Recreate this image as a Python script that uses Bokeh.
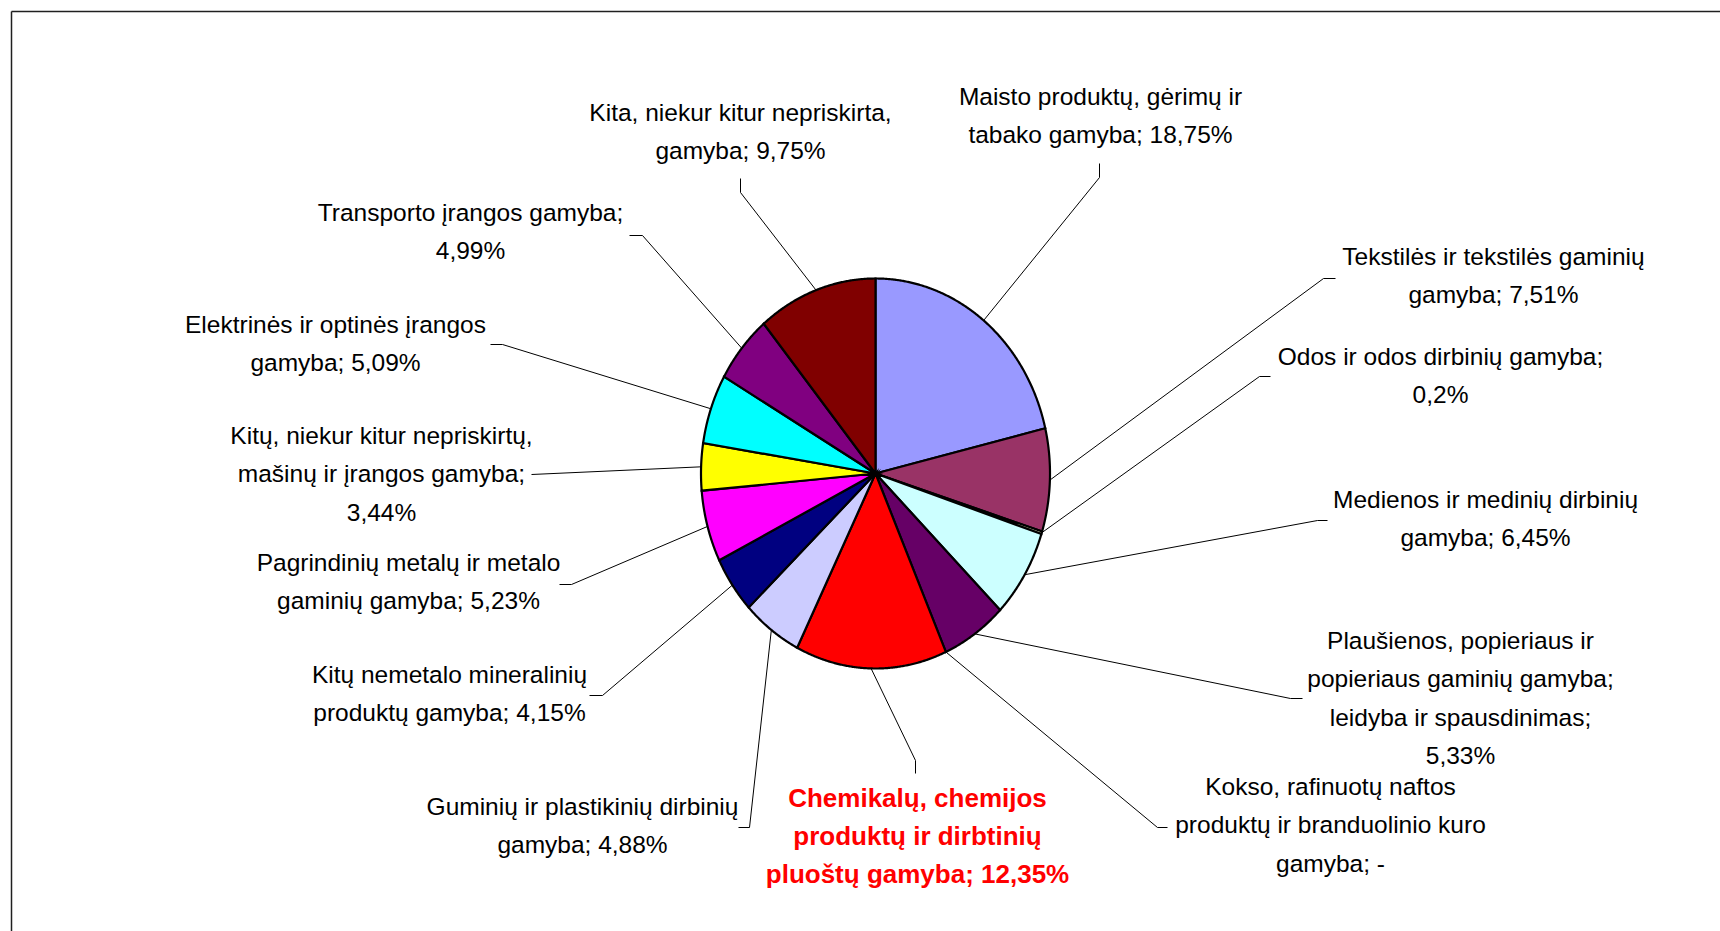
import numpy as np
from bokeh.plotting import figure
from bokeh.models import Range1d, ColumnDataSource
from bokeh.embed import file_html
from bokeh.resources import INLINE
from bokeh.core.properties import value

# ---------------- data ----------------
categories = [
    "Maisto produktų, gėrimų ir tabako gamyba",
    "Tekstilės ir tekstilės gaminių gamyba",
    "Odos ir odos dirbinių gamyba",
    "Medienos ir medinių dirbinių gamyba",
    "Plaušienos, popieriaus ir popieriaus gaminių gamyba; leidyba ir spausdinimas",
    "Kokso, rafinuotų naftos produktų ir branduolinio kuro gamyba",
    "Chemikalų, chemijos produktų ir dirbtinių pluoštų gamyba",
    "Guminių ir plastikinių dirbinių gamyba",
    "Kitų nemetalo mineralinių produktų gamyba",
    "Pagrindinių metalų ir metalo gaminių gamyba",
    "Kitų, niekur kitur nepriskirtų, mašinų ir įrangos gamyba",
    "Elektrinės ir optinės įrangos gamyba",
    "Transporto įrangos gamyba",
    "Kita, niekur kitur nepriskirta, gamyba",
]
shares = [18.75, 7.51, 0.2, 6.45, 5.33, 0.0, 12.35, 4.88, 4.15, 5.23, 3.44, 5.09, 4.99, 9.75]
label_lines = [
    ["Maisto produktų, gėrimų ir", "tabako gamyba; 18,75%"],
    ["Tekstilės ir tekstilės gaminių", "gamyba; 7,51%"],
    ["Odos ir odos dirbinių gamyba;", "0,2%"],
    ["Medienos ir medinių dirbinių", "gamyba; 6,45%"],
    ["Plaušienos, popieriaus ir", "popieriaus gaminių gamyba;", "leidyba ir spausdinimas;", "5,33%"],
    ["Kokso, rafinuotų naftos", "produktų ir branduolinio kuro", "gamyba; -"],
    ["Chemikalų, chemijos", "produktų ir dirbtinių", "pluoštų gamyba; 12,35%"],
    ["Guminių ir plastikinių dirbinių", "gamyba; 4,88%"],
    ["Kitų nemetalo mineralinių", "produktų gamyba; 4,15%"],
    ["Pagrindinių metalų ir metalo", "gaminių gamyba; 5,23%"],
    ["Kitų, niekur kitur nepriskirtų,", "mašinų ir įrangos gamyba;", "3,44%"],
    ["Elektrinės ir optinės įrangos", "gamyba; 5,09%"],
    ["Transporto įrangos gamyba;", "4,99%"],
    ["Kita, niekur kitur nepriskirta,", "gamyba; 9,75%"],
]
highlight = 6  # Chemikalų label in red bold

# ---------------- styles ----------------
colors = ["#9999FF", "#993366", "#FFFFCC", "#CCFFFF", "#660066", "#FF8080", "#FF0000",
          "#CCCCFF", "#000080", "#FF00FF", "#FFFF00", "#00FFFF", "#800080", "#800000"]

# ---------------- layout (page pixels) ----------------
OFF = 0                      # observed page offset of the figure
W, H = 1720, 931
CXP, CYP = 875, 473          # pie centre on page
RX, RY = 174.5, 195.0        # pie radii (stretched ellipse)
label_x = [1100, 1493, 1440, 1485, 1460, 1330, 917, 582, 449, 408, 381, 335, 470, 740]
label_y0 = [96, 256, 356, 499, 640, 786, 797, 806, 674, 562, 435, 324, 212, 112]
line_step = 38.4
anchor_a = [(1099, 163), (1335, 278), (1270, 376), (1327, 520), (1302, 698), (1167, 827),
            (915, 773), (738, 827), (589, 695), (559, 584), (531, 474), (490, 344),
            (629, 235), (740, 178)]
anchor_b = [(1099, 177), (1323, 278), (1259, 376), (1317, 520), (1290, 698), (1157, 827),
            (915, 760), (749, 827), (602, 695), (571, 584), (531, 474), (502, 344),
            (642, 235), (740, 192)]


def px(xp):
    return (xp - CXP) / RX


def py(yp):
    return -(yp - CYP) / RY


p = figure(width=W, height=H, output_backend="svg", toolbar_location=None,
           x_range=Range1d(px(OFF), px(OFF + W)), y_range=Range1d(py(OFF + H), py(OFF)),
           x_axis_type=None, y_axis_type=None, min_border=0,
           outline_line_color=None, background_fill_color="white",
           border_fill_color="white")
p.grid.visible = False

# frame border (left and top edges of the chart area)
p.multi_line(xs=[[px(11), px(11)], [px(11), px(1730)]],
             ys=[[py(11), py(940)], [py(11), py(11)]],
             line_color="#202020", line_width=1.5)

# ---------------- pie slices ----------------
total = float(sum(shares))
cum = np.concatenate([[0.0], np.cumsum(shares)]) / total
starts = np.pi / 2 - 2 * np.pi * cum[:-1]
ends = np.pi / 2 - 2 * np.pi * cum[1:]

xs, ys, fills = [], [], []
for s, e, v, c in zip(starts, ends, shares, colors):
    if v <= 0:
        continue
    n = max(3, int(abs(s - e) * 180 / np.pi * 3))
    t = np.linspace(s, e, n)
    xs.append([0.0] + list(np.cos(t)))
    ys.append([0.0] + list(np.sin(t)))
    fills.append(c)
p.patches(xs=xs, ys=ys, fill_color=fills, line_color="black", line_width=2.2,
          line_join="miter")

# ---------------- leader lines ----------------
lxs, lys = [], []
for s, e, a, b in zip(starts, ends, anchor_a, anchor_b):
    m = (s + e) / 2
    lxs.append([px(a[0]), px(b[0]), float(np.cos(m))])
    lys.append([py(a[1]), py(b[1]), float(np.sin(m))])
p.multi_line(xs=lxs, ys=lys, line_color="black", line_width=1)

# ---------------- labels ----------------
norm = dict(x=[], y=[], text=[])
bold = dict(x=[], y=[], text=[])
for i, lines in enumerate(label_lines):
    d = bold if i == highlight else norm
    for k, ln in enumerate(lines):
        d["x"].append(px(label_x[i]))
        d["y"].append(py(label_y0[i] + k * line_step))
        d["text"].append(ln)

p.text(x="x", y="y", text="text", source=ColumnDataSource(norm),
       text_font=value("Liberation Sans"), text_font_size=value("24.5px"),
       text_color="black", text_align="center", text_baseline="middle")
p.text(x="x", y="y", text="text", source=ColumnDataSource(bold),
       text_font=value("Liberation Sans"), text_font_size=value("26px"),
       text_font_style="bold", text_color="#FF0000",
       text_align="center", text_baseline="middle")

open("out.html", "w").write(file_html(p, INLINE))
